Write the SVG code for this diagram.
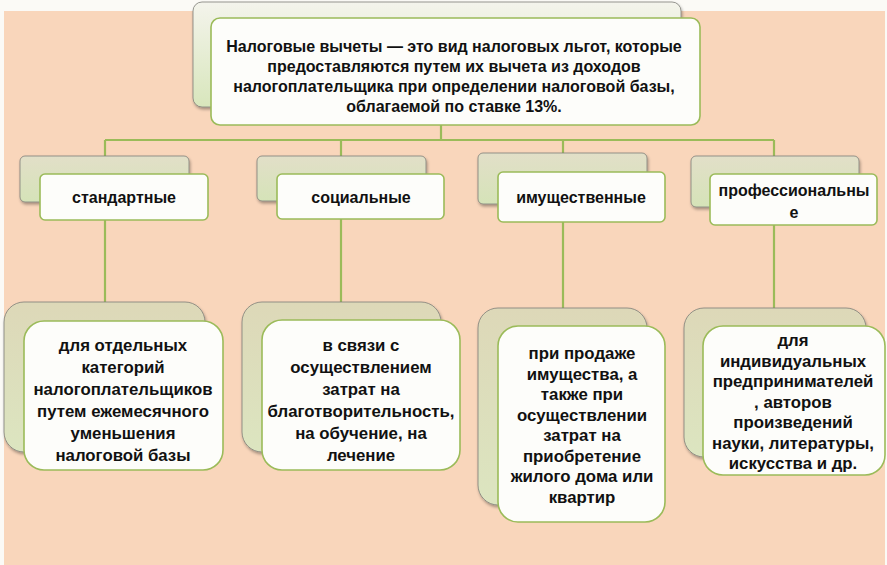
<svg xmlns="http://www.w3.org/2000/svg" width="887" height="565" viewBox="0 0 887 565">
<defs>
<linearGradient id="gTop" x1="0" y1="0" x2="0" y2="1">
<stop offset="0" stop-color="#F4F4EC"/>
<stop offset="1" stop-color="#D8E6BC"/>
</linearGradient>
<linearGradient id="gMid" x1="0" y1="0" x2="0" y2="1">
<stop offset="0" stop-color="#E2DFC8"/>
<stop offset="1" stop-color="#D5E3B8"/>
</linearGradient>
<linearGradient id="gLow" x1="0" y1="0" x2="0" y2="1">
<stop offset="0" stop-color="#DDD8B8"/>
<stop offset="1" stop-color="#DCE5C0"/>
</linearGradient>
<filter id="sh" x="-10%" y="-10%" width="125%" height="130%">
<feDropShadow dx="1" dy="2" stdDeviation="1.5" flood-color="#000" flood-opacity="0.35"/>
</filter>
</defs>
<style>
.back{stroke:#7F7F78;stroke-width:0.8;filter:url(#sh)}
.front{fill:#FDFDFA;stroke:#9BBB59;stroke-width:1.6}
.conn{stroke:#9BBB59;stroke-width:2.2;fill:none}
text{font-family:"Liberation Sans",Arial,sans-serif;font-weight:bold;font-size:16px;fill:#111;text-anchor:middle}
.big text{font-size:16.8px}
</style>
<rect x="0" y="0" width="887" height="565" fill="#FBFAF6"/>
<rect x="4" y="11" width="881" height="554" fill="#F9D6BB"/>

<g id="connectors">
<path class="conn" d="M441 125V140M105 140H774M105 140V174M341 140V174M563 140V172M774 140V174"/>
<path class="conn" d="M105 220V302M341 219V302M563 222V308M774 225V308"/>
</g>

<g id="root">
<rect class="back" x="193" y="2" width="488" height="105" rx="9" fill="url(#gTop)"/>
<rect class="front" x="211" y="18" width="489" height="107" rx="9"/>
<text x="454" y="52">Налоговые вычеты — это вид налоговых льгот, которые</text>
<text x="454" y="72">предоставляются путем их вычета из доходов</text>
<text x="454" y="92">налогоплательщика при определении налоговой базы,</text>
<text x="454" y="112">облагаемой по ставке 13%.</text>
</g>

<g id="standard">
<rect class="back" x="20" y="156" width="169" height="46" rx="5" fill="url(#gMid)"/>
<rect class="front" x="40" y="174" width="168" height="46" rx="5"/>
<text x="124" y="203">стандартные</text>
</g>
<g id="social">
<rect class="back" x="257" y="156" width="169" height="45" rx="5" fill="url(#gMid)"/>
<rect class="front" x="277" y="174" width="167" height="45" rx="5"/>
<text x="361" y="203">социальные</text>
</g>
<g id="property">
<rect class="back" x="478" y="153" width="169" height="51" rx="5" fill="url(#gMid)"/>
<rect class="front" x="498" y="172" width="167" height="50" rx="5"/>
<text x="581" y="203">имущественные</text>
</g>
<g id="professional">
<rect class="back" x="691" y="156" width="168" height="51" rx="5" fill="url(#gMid)"/>
<rect class="front" x="710" y="174" width="167" height="51" rx="5"/>
<text x="794" y="196">профессиональны</text>
<text x="794" y="218">е</text>
</g>

<g id="standard-desc" class="big">
<rect class="back" x="4" y="302" width="201" height="150" rx="20" fill="url(#gLow)"/>
<rect class="front" x="24" y="321" width="199" height="149" rx="20"/>
<text x="123" y="351">для отдельных</text>
<text x="123" y="373">категорий</text>
<text x="123" y="395">налогоплательщиков</text>
<text x="123" y="417">путем ежемесячного</text>
<text x="123" y="439">уменьшения</text>
<text x="123" y="461">налоговой базы</text>
</g>
<g id="social-desc" class="big">
<rect class="back" x="242" y="302" width="199" height="150" rx="20" fill="url(#gLow)"/>
<rect class="front" x="262" y="320" width="198" height="150" rx="20"/>
<text x="361" y="351">в связи с</text>
<text x="361" y="373">осуществлением</text>
<text x="361" y="395">затрат на</text>
<text x="361" y="417">благотворительность,</text>
<text x="361" y="439">на обучение, на</text>
<text x="361" y="461">лечение</text>
</g>
<g id="property-desc" class="big">
<rect class="back" x="478" y="308" width="169" height="197" rx="20" fill="url(#gLow)"/>
<rect class="front" x="498" y="326" width="167" height="196" rx="20"/>
<text x="582" y="359">при продаже</text>
<text x="582" y="380">имущества, а</text>
<text x="582" y="400">также при</text>
<text x="582" y="421">осуществлении</text>
<text x="582" y="441">затрат на</text>
<text x="582" y="462">приобретение</text>
<text x="582" y="482">жилого дома или</text>
<text x="582" y="503">квартир</text>
</g>
<g id="professional-desc" class="big">
<rect class="back" x="684" y="308" width="182" height="149" rx="20" fill="url(#gLow)"/>
<rect class="front" x="703" y="326" width="182" height="149" rx="20"/>
<text x="793" y="346">для</text>
<text x="793" y="367">индивидуальных</text>
<text x="793" y="387">предпринимателей</text>
<text x="793" y="408">, авторов</text>
<text x="793" y="428">произведений</text>
<text x="793" y="449">науки, литературы,</text>
<text x="793" y="469">искусства и др.</text>
</g>
</svg>
